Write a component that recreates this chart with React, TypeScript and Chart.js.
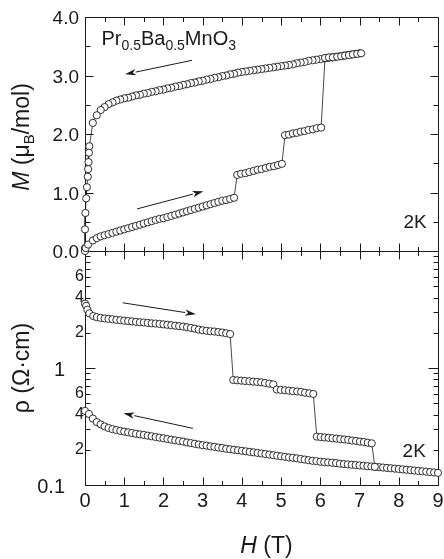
import React, { useEffect, useRef } from 'react';
import { Chart, registerables } from 'chart.js';

Chart.register(...registerables);

// ---------------- data ----------------
// Magnetisation, field increasing (H in T, M in muB/mol)
const M_UP_H = [0, 0.02, 0.08, 0.2, 0.3, 0.4, 0.5, 0.6, 0.7, 0.8, 0.9, 1.0, 1.1, 1.2, 1.3, 1.4, 1.5, 1.6, 1.7, 1.8, 1.9, 2.0,
  2.1, 2.2, 2.3, 2.4, 2.5, 2.6, 2.7, 2.8, 2.9, 3.0, 3.1, 3.2, 3.3, 3.4, 3.5, 3.6, 3.7, 3.8,
  3.88, 3.98, 4.09, 4.19, 4.3, 4.4, 4.5, 4.61, 4.71, 4.82, 4.92, 5.02,
  5.1, 5.2, 5.3, 5.4, 5.5, 5.6, 5.7, 5.81, 5.91, 6.02,
  6.12, 6.22, 6.32, 6.43, 6.53, 6.63, 6.73, 6.83, 6.94, 7.04];
const M_UP = [0, 0.05, 0.11, 0.18, 0.22, 0.25, 0.27, 0.29, 0.31, 0.33, 0.35, 0.37, 0.39, 0.41, 0.43, 0.45, 0.47, 0.49, 0.51, 0.53, 0.55, 0.56,
  0.58, 0.6, 0.62, 0.64, 0.66, 0.68, 0.7, 0.72, 0.74, 0.76, 0.78, 0.8, 0.82, 0.84, 0.86, 0.87, 0.89, 0.91,
  1.3, 1.32, 1.33, 1.35, 1.37, 1.39, 1.4, 1.42, 1.44, 1.45, 1.47, 1.49,
  1.98, 1.99, 2.01, 2.02, 2.04, 2.05, 2.07, 2.08, 2.1, 2.11,
  3.3, 3.31, 3.31, 3.32, 3.33, 3.34, 3.35, 3.36, 3.37, 3.38];

// Magnetisation, field decreasing
const M_DOWN_H = [7.0, 6.9, 6.8, 6.7, 6.6, 6.5, 6.4, 6.3, 6.2, 6.1, 6.0, 5.9, 5.8, 5.7, 5.6, 5.5, 5.4, 5.3, 5.2, 5.1, 5.0,
  4.9, 4.8, 4.7, 4.6, 4.5, 4.4, 4.3, 4.2, 4.1, 4.0, 3.9, 3.8, 3.7, 3.6, 3.5, 3.4, 3.3, 3.2, 3.1, 3.0,
  2.9, 2.8, 2.7, 2.6, 2.5, 2.4, 2.3, 2.2, 2.1, 2.0, 1.9, 1.8, 1.7, 1.6, 1.5, 1.4, 1.3, 1.2, 1.1, 1.0,
  0.9, 0.8, 0.7, 0.6, 0.5, 0.4, 0.3, 0.2, 0.11, 0.1, 0.09, 0.08, 0.07, 0.05, 0.03, 0.01, 0.0, 0.0];
const M_DOWN = [3.38, 3.37, 3.36, 3.35, 3.34, 3.33, 3.32, 3.31, 3.3, 3.29, 3.28, 3.27, 3.26, 3.25, 3.23, 3.22, 3.21, 3.19, 3.18, 3.17, 3.16,
  3.15, 3.14, 3.13, 3.12, 3.11, 3.1, 3.09, 3.08, 3.07, 3.06, 3.05, 3.03, 3.02, 3.0, 2.99, 2.97, 2.96, 2.94, 2.93, 2.91,
  2.9, 2.88, 2.87, 2.85, 2.84, 2.82, 2.81, 2.79, 2.78, 2.76, 2.75, 2.73, 2.72, 2.7, 2.69, 2.67, 2.66, 2.64, 2.62, 2.61,
  2.59, 2.57, 2.54, 2.51, 2.46, 2.41, 2.32, 2.19, 1.79, 1.68, 1.52, 1.4, 1.27, 1.09, 0.9, 0.65, 0.37, 0.05];

// Resistivity, field increasing (Ohm cm)
const R_UP_H = [0, 0.03, 0.06, 0.11, 0.21, 0.3, 0.4, 0.5, 0.6, 0.7, 0.8, 0.9, 1.0, 1.1, 1.2, 1.3, 1.4, 1.5, 1.6, 1.7, 1.8, 1.9, 2.0,
  2.1, 2.2, 2.3, 2.4, 2.5, 2.6, 2.7, 2.8, 2.9, 3.0, 3.1, 3.2, 3.3, 3.4, 3.5, 3.6, 3.7,
  3.78, 3.88, 3.98, 4.08, 4.19, 4.29, 4.39, 4.49, 4.59, 4.7, 4.8,
  4.89, 4.99, 5.1, 5.2, 5.3, 5.41, 5.51, 5.61, 5.72, 5.82,
  5.91, 6.01, 6.11, 6.21, 6.31, 6.41, 6.51, 6.61, 6.71, 6.81, 6.91, 7.01, 7.11, 7.21, 7.31, 7.39];
const R_UP = [3.55, 3.4, 3.15, 2.93, 2.78, 2.72, 2.68, 2.65, 2.63, 2.61, 2.58, 2.56, 2.54, 2.52, 2.5, 2.48, 2.46, 2.45, 2.43, 2.41, 2.4, 2.38, 2.36,
  2.34, 2.32, 2.3, 2.28, 2.26, 2.23, 2.2, 2.17, 2.13, 2.1, 2.08, 2.06, 2.05, 2.03, 2.01, 1.98, 1.95,
  0.79, 0.785, 0.78, 0.775, 0.77, 0.765, 0.76, 0.755, 0.745, 0.735, 0.725,
  0.655, 0.65, 0.645, 0.64, 0.635, 0.63, 0.625, 0.615, 0.608, 0.6,
  0.259, 0.257, 0.255, 0.253, 0.251, 0.249, 0.247, 0.245, 0.243, 0.24, 0.238, 0.235, 0.233, 0.23, 0.227, 0.143];

// Resistivity, field decreasing (listed by ascending H)
const R_DOWN_H = [0.0, 0.1, 0.2, 0.3, 0.4, 0.5, 0.6, 0.7, 0.8, 0.9, 1.0, 1.1, 1.2, 1.3, 1.4, 1.5, 1.6, 1.7, 1.8, 1.9, 2.0,
  2.1, 2.2, 2.3, 2.4, 2.5, 2.6, 2.7, 2.8, 2.9, 3.0, 3.1, 3.2, 3.3, 3.4, 3.5, 3.6, 3.7, 3.8, 3.9, 4.0,
  4.1, 4.2, 4.3, 4.4, 4.5, 4.6, 4.7, 4.8, 4.9, 5.0, 5.1, 5.2, 5.3, 5.4, 5.5, 5.6, 5.7, 5.8, 5.9, 6.0,
  6.1, 6.2, 6.3, 6.4, 6.5, 6.6, 6.7, 6.8, 6.9, 7.0, 7.1, 7.2, 7.3, 7.4, 7.5, 7.6, 7.7, 7.8, 7.9, 8.0,
  8.1, 8.2, 8.3, 8.4, 8.5, 8.6, 8.7, 8.8, 8.9, 9.0];
const R_DOWN = [0.43, 0.405, 0.37, 0.345, 0.33, 0.317, 0.307, 0.3, 0.295, 0.29, 0.286, 0.282, 0.278, 0.274, 0.271, 0.268, 0.264, 0.261, 0.257, 0.254, 0.251,
  0.247, 0.244, 0.241, 0.238, 0.235, 0.231, 0.228, 0.225, 0.222, 0.219, 0.217, 0.214, 0.212, 0.209, 0.207, 0.204, 0.202, 0.2, 0.198, 0.196,
  0.194, 0.192, 0.19, 0.188, 0.186, 0.184, 0.182, 0.18, 0.178, 0.176, 0.174, 0.172, 0.171, 0.169, 0.167, 0.165, 0.163, 0.161, 0.16, 0.158,
  0.157, 0.156, 0.155, 0.154, 0.152, 0.151, 0.15, 0.149, 0.148, 0.147, 0.146, 0.145, 0.144, 0.143, 0.142, 0.141, 0.14, 0.139, 0.138, 0.137,
  0.136, 0.135, 0.134, 0.133, 0.132, 0.131, 0.13, 0.129, 0.128, 0.127];

// ticks
const X_TICKS = [0, 1, 2, 3, 4, 5, 6, 7, 8, 9];
const X_MINOR = [0.5, 1.5, 2.5, 3.5, 4.5, 5.5, 6.5, 7.5, 8.5];
const M_TICKS = [0, 1, 2, 3, 4];
const M_TICK_LABELS = ['0.0', '1.0', '2.0', '3.0', '4.0'];
const M_MINOR = [0.5, 1.5, 2.5, 3.5];
const RHO_MAJOR = [0.1, 1, 10];
const RHO_MINOR = [0.2, 0.3, 0.4, 0.5, 0.6, 0.7, 0.8, 0.9, 2, 3, 4, 5, 6, 7, 8, 9];
const RHO_BIG_LABELS: [number, string][] = [[0.1, '0.1'], [1, '1']];
const RHO_SMALL_LABELS: [number, string][] = [[0.2, '2'], [0.4, '4'], [0.6, '6'], [2, '2'], [4, '4'], [6, '6']];

// annotations (data coordinates)
const ARROWS_M = [
  { from: [2.73, 3.26], to: [1.02, 3.02] },
  { from: [1.33, 0.72], to: [3.02, 1.02] },
];
const ARROWS_RHO = [
  { from: [0.96, 3.61], to: [2.83, 2.88] },
  { from: [2.75, 0.305], to: [0.98, 0.41] },
];
const FORMULA_POS = [0.42, 3.52];
const LABEL_2K_M = [8.71, 0.395];
const LABEL_2K_RHO = [8.69, 0.173];

const INK = '#1a1a1a';
const FONT = '"Liberation Sans", Arial, Helvetica, sans-serif';

type Part = { t: string; s: number; it?: boolean; dy?: number };

function fontOf(p: Part) {
  return `${p.it ? 'italic ' : ''}${p.s}px ${FONT}`;
}
function richWidth(ctx: CanvasRenderingContext2D, parts: Part[]) {
  let w = 0;
  for (const p of parts) {
    ctx.font = fontOf(p);
    w += ctx.measureText(p.t).width;
  }
  return w;
}
function drawRich(ctx: CanvasRenderingContext2D, parts: Part[], x: number, y: number) {
  let cx = x;
  ctx.textAlign = 'left';
  ctx.textBaseline = 'alphabetic';
  for (const p of parts) {
    ctx.font = fontOf(p);
    ctx.fillText(p.t, cx, y + (p.dy || 0));
    cx += ctx.measureText(p.t).width;
  }
}

const pts = (xs: number[], ys: number[]) => xs.map((x, i) => ({ x, y: ys[i] }));

const axesPlugin = {
  id: 'axesPlugin',
  beforeDatasetsDraw(chart: any) {
    const ctx: CanvasRenderingContext2D = chart.ctx;
    const { left, right, top, bottom } = chart.chartArea;
    const xs = chart.scales.x;
    const yl = chart.scales.yLin;
    const yg = chart.scales.yLog;
    const mid = yl.bottom;
    const a = (v: number) => Math.round(v) + 0.5;
    ctx.save();
    ctx.strokeStyle = INK;
    ctx.lineWidth = 1;
    ctx.beginPath();
    const seg = (x1: number, y1: number, x2: number, y2: number) => {
      ctx.moveTo(x1, y1);
      ctx.lineTo(x2, y2);
    };
    const L = a(left), R = a(right), T = a(top), B = a(bottom), MID = a(mid);
    seg(L, T, R, T); seg(R, T, R, B); seg(R, B, L, B); seg(L, B, L, T);
    seg(L, MID, R, MID);
    const xt = (v: number, len: number) => {
      const px = a(xs.getPixelForValue(v));
      seg(px, B, px, B - len);
      seg(px, T, px, T + len);
      seg(px, MID - len, px, MID + len);
    };
    X_TICKS.forEach((v) => xt(v, 8));
    X_MINOR.forEach((v) => xt(v, 4.5));
    const yt = (sc: any, v: number, len: number) => {
      const py = a(sc.getPixelForValue(v));
      seg(L, py, L + len, py);
      seg(R, py, R - len, py);
    };
    M_TICKS.forEach((v) => yt(yl, v, 8));
    M_MINOR.forEach((v) => yt(yl, v, 5));
    RHO_MAJOR.forEach((v) => yt(yg, v, 10));
    RHO_MINOR.forEach((v) => yt(yg, v, 5));
    ctx.stroke();

    ctx.fillStyle = INK;
    // x tick labels
    ctx.font = `20px ${FONT}`;
    ctx.textAlign = 'center';
    ctx.textBaseline = 'middle';
    X_TICKS.forEach((v) => ctx.fillText(String(v), xs.getPixelForValue(v), bottom + 16));
    // M tick labels
    ctx.font = `19px ${FONT}`;
    ctx.textAlign = 'right';
    M_TICKS.forEach((v, i) => ctx.fillText(M_TICK_LABELS[i], left - 6, yl.getPixelForValue(v) + 2));
    // rho tick labels
    ctx.font = `20px ${FONT}`;
    RHO_BIG_LABELS.forEach(([v, s]) => ctx.fillText(s, left - 20, yg.getPixelForValue(v) + 2));
    ctx.font = `16px ${FONT}`;
    RHO_SMALL_LABELS.forEach(([v, s]) => ctx.fillText(s, left - 1, yg.getPixelForValue(v)));

    // axis titles
    const mParts: Part[] = [
      { t: 'M', s: 23, it: true },
      { t: ' (\u03bc', s: 23 },
      { t: 'B', s: 15, dy: 5 },
      { t: '/mol)', s: 23 },
    ];
    ctx.save();
    ctx.translate(28.5, (top + mid) / 2 + 3);
    ctx.rotate(-Math.PI / 2);
    drawRich(ctx, mParts, -richWidth(ctx, mParts) / 2, 0);
    ctx.restore();

    const rParts: Part[] = [{ t: '\u03c1 (\u03a9\u00b7cm)', s: 23 }];
    ctx.save();
    ctx.translate(28.5, (mid + bottom) / 2);
    ctx.rotate(-Math.PI / 2);
    drawRich(ctx, rParts, -richWidth(ctx, rParts) / 2, 0);
    ctx.restore();

    const hParts: Part[] = [
      { t: 'H', s: 23, it: true },
      { t: ' (T)', s: 23 },
    ];
    drawRich(ctx, hParts, (left + right) / 2 + 5 - richWidth(ctx, hParts) / 2, bottom + 68);
    ctx.restore();
  },
  afterDatasetsDraw(chart: any) {
    const ctx: CanvasRenderingContext2D = chart.ctx;
    const xs = chart.scales.x;
    const yl = chart.scales.yLin;
    const yg = chart.scales.yLog;
    ctx.save();
    ctx.strokeStyle = INK;
    ctx.fillStyle = INK;
    ctx.lineWidth = 1;
    const arrow = (sc: any, f: number[], t: number[]) => {
      const x1 = xs.getPixelForValue(f[0]), y1 = sc.getPixelForValue(f[1]);
      const x2 = xs.getPixelForValue(t[0]), y2 = sc.getPixelForValue(t[1]);
      const ang = Math.atan2(y2 - y1, x2 - x1);
      const hl = 11, hw = 3.2;
      const bx = x2 - hl * Math.cos(ang), by = y2 - hl * Math.sin(ang);
      ctx.beginPath();
      ctx.moveTo(x1, y1);
      ctx.lineTo(bx, by);
      ctx.stroke();
      ctx.beginPath();
      ctx.moveTo(x2, y2);
      ctx.lineTo(bx + hw * Math.sin(ang), by - hw * Math.cos(ang));
      ctx.lineTo(bx + 3 * Math.cos(ang), by + 3 * Math.sin(ang));
      ctx.lineTo(bx - hw * Math.sin(ang), by + hw * Math.cos(ang));
      ctx.closePath();
      ctx.fill();
    };
    ARROWS_M.forEach((ar) => arrow(yl, ar.from, ar.to));
    ARROWS_RHO.forEach((ar) => arrow(yg, ar.from, ar.to));

    const formula: Part[] = [
      { t: 'Pr', s: 20 },
      { t: '0.5', s: 14, dy: 5 },
      { t: 'Ba', s: 20 },
      { t: '0.5', s: 14, dy: 5 },
      { t: 'MnO', s: 20 },
      { t: '3', s: 14, dy: 5 },
    ];
    drawRich(ctx, formula, xs.getPixelForValue(FORMULA_POS[0]), yl.getPixelForValue(FORMULA_POS[1]));

    ctx.font = `19px ${FONT}`;
    ctx.textAlign = 'right';
    ctx.textBaseline = 'alphabetic';
    ctx.fillText('2K', xs.getPixelForValue(LABEL_2K_M[0]), yl.getPixelForValue(LABEL_2K_M[1]));
    ctx.fillText('2K', xs.getPixelForValue(LABEL_2K_RHO[0]), yg.getPixelForValue(LABEL_2K_RHO[1]));
    ctx.restore();
  },
};

const seriesStyle = {
  showLine: true,
  borderColor: INK,
  borderWidth: 0.8,
  pointRadius: 3.6,
  pointBackgroundColor: '#ffffff',
  pointBorderColor: INK,
  pointBorderWidth: 0.9,
  clip: false as const,
};

export default function App() {
  const ref = useRef<HTMLCanvasElement | null>(null);
  useEffect(() => {
    if (!ref.current) return;
    const chart = new Chart(ref.current, {
      type: 'scatter',
      data: {
        datasets: [
          { label: 'M up', data: pts(M_UP_H, M_UP), yAxisID: 'yLin', ...seriesStyle },
          { label: 'M down', data: pts(M_DOWN_H, M_DOWN), yAxisID: 'yLin', ...seriesStyle },
          { label: 'rho up', data: pts(R_UP_H, R_UP), yAxisID: 'yLog', ...seriesStyle },
          { label: 'rho down', data: pts(R_DOWN_H, R_DOWN), yAxisID: 'yLog', ...seriesStyle },
        ] as any,
      },
      options: {
        animation: false,
        responsive: false,
        events: [],
        layout: { padding: { left: 85, top: 17, right: 6, bottom: 74 } },
        plugins: { legend: { display: false }, tooltip: { enabled: false } },
        scales: {
          x: { type: 'linear', min: 0, max: 9, display: false },
          yLog: { type: 'logarithmic', min: 0.1, max: 10, display: false, position: 'left', stack: 'v', stackWeight: 1, weight: 0 },
          yLin: { type: 'linear', min: 0, max: 4, display: false, position: 'left', stack: 'v', stackWeight: 1, weight: 1 },
        } as any,
      },
      plugins: [axesPlugin],
    });
    return () => chart.destroy();
  }, []);
  return (
    <div style={{ position: 'absolute', left: 0, top: 0, width: 444, height: 559, background: '#fff' }}>
      <canvas ref={ref} width={444} height={559} style={{ display: 'block' }} />
    </div>
  );
}
